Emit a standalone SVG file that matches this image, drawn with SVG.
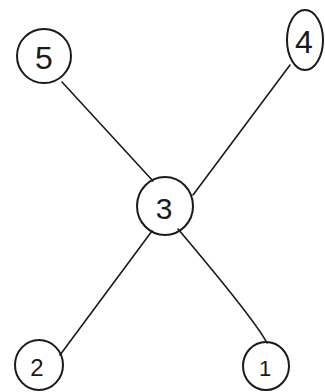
<svg xmlns="http://www.w3.org/2000/svg" width="325" height="392" viewBox="0 0 325 392">
<style>
.n{fill:none;stroke:#1a1a1a;stroke-width:2}
.e{fill:none;stroke:#1a1a1a;stroke-width:1.6;stroke-linecap:round}
.t{font-family:"Liberation Sans",Arial,sans-serif;fill:#1a1a1a;text-anchor:middle;dominant-baseline:central}
</style>
<rect width="325" height="392" fill="#ffffff"/>
<g id="connectors">
<path class="e" d="M62 82 L153 181"/>
<path class="e" d="M290 65 L193 195"/>
<path class="e" d="M152 231 L60 355"/>
<path class="e" d="M178 229 Q255 320 267 343"/>
</g>
<g id="node5"><ellipse class="n" cx="44" cy="56" rx="27" ry="27"/><text class="t" x="44" y="58" font-size="32">5</text></g>
<g id="node4"><ellipse class="n" cx="305" cy="40" rx="18" ry="30"/><text class="t" x="304" y="42" font-size="32">4</text></g>
<g id="node3"><ellipse class="n" cx="165" cy="206" rx="28" ry="29"/><text class="t" x="164" y="208" font-size="30">3</text></g>
<g id="node2"><ellipse class="n" cx="39" cy="365" rx="24" ry="25"/><text class="t" x="37" y="367" font-size="24">2</text></g>
<g id="node1"><ellipse class="n" cx="266" cy="366" rx="23" ry="24"/><text class="t" x="265" y="368" font-size="22">1</text></g>
</svg>
